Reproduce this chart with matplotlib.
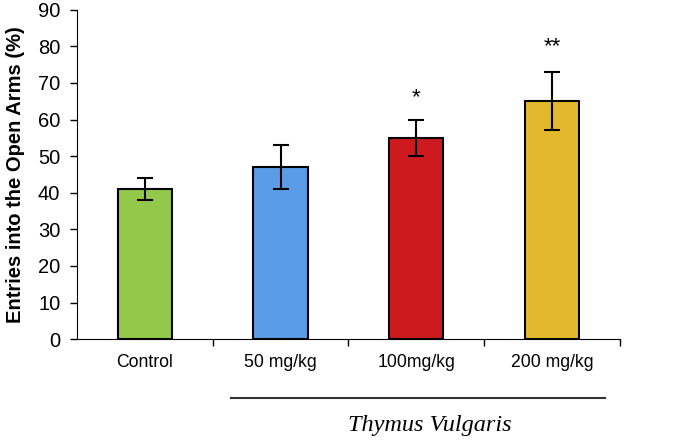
import numpy as np
import matplotlib
matplotlib.use("Agg")
import matplotlib.pyplot as plt

plt.rcParams['font.family'] = ['Liberation Sans', 'DejaVu Sans']

groups = ['Control', '50 mg/kg', '100mg/kg', '200 mg/kg']
means = [41, 47, 55, 65]
errs = [3, 6, 5, 8]
stars = ['', '', '*', '**']
star_y = [0, 0, 66, 80]
colors = ['#94C84B', '#5A9CE6', '#CC1A1E', '#E3B82C']

fig = plt.figure(figsize=(6.83, 4.41), dpi=100)
ax = fig.add_axes([0.1127, 0.231, 0.795, 0.747])

x = np.arange(len(groups))
ax.bar(x, means, width=0.4, color=colors, edgecolor='black', linewidth=1.5, zorder=2)
ax.errorbar(x, means, yerr=errs, fmt='none', ecolor='black', elinewidth=1.5,
            capsize=6, capthick=1.5, zorder=3)
for xi, s, sy in zip(x, stars, star_y):
    if s:
        ax.text(xi, sy, s, ha='center', va='center', fontsize=16)

ax.set_xlim(-0.5, len(groups) - 0.5)
ax.set_ylim(0, 90)
ax.set_yticks(np.arange(0, 91, 10))
ax.tick_params(axis='y', labelsize=14.5, length=5, direction='out', width=1, pad=7)
ax.set_xticks(x)
ax.set_xticklabels(groups, fontsize=12.7)
ax.tick_params(axis='x', length=0, pad=11)
ax.set_xticks(np.arange(0.5, len(groups) - 0.4, 1), minor=True)
ax.tick_params(axis='x', which='minor', length=5, width=1, direction='out')
ax.spines['top'].set_visible(False)
ax.spines['right'].set_visible(False)
ax.set_ylabel('Entries into the Open Arms (%)', fontsize=14.5, fontweight='bold')
ax.yaxis.set_label_coords(-0.095, 0.5)

# group line and label under the treated groups
fig.add_artist(plt.Line2D([231 / 683, 605 / 683], [1 - 398 / 441, 1 - 398 / 441],
                          color='#333333', linewidth=1.5))
fig.text(430 / 683, 1 - 425 / 441, 'Thymus Vulgaris', family='Liberation Serif',
         style='italic', fontsize=17.5, ha='center', va='center')

fig.savefig('out.png', dpi=100)
